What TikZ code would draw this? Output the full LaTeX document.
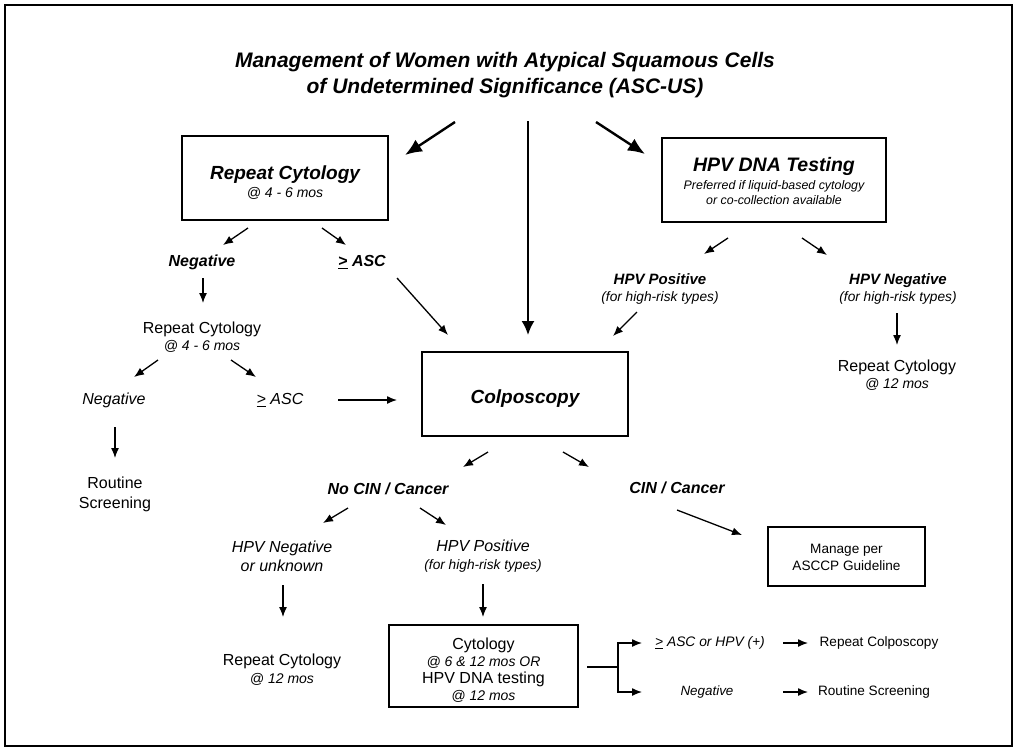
\documentclass[tikz,border=0pt]{standalone}
\usepackage{fontspec}
\setmainfont{Liberation Sans}
\usetikzlibrary{arrows.meta,calc}

\newcommand{\fsz}[2]{\fontsize{#1}{#2}\selectfont}
% "greater than or equal" written as an underlined >
\newcommand{\gequl}{\leavevmode\hbox{\vtop{\hbox{>}\kern1.3pt\hrule height 1.1pt}}}
% invisible strut that lowers a block of lines inside a box
\newcommand{\lift}[1]{\rule{0pt}{#1}}

\tikzset{
  box/.style={draw, line width=1.5pt, inner sep=0pt, align=center},
  lbl/.style={inner sep=0pt, align=center},
  arr/.style={-{Latex[length=10pt,width=8pt]}, line width=1.3pt},
  bigarr/.style={-{Latex[length=17pt,width=14pt]}, line width=2.4pt},
  midarr/.style={-{Latex[length=14pt,width=13pt]}, line width=2pt},
}

\begin{document}
\begin{tikzpicture}[x=1pt, y=-1pt]
\useasboundingbox (0,0) rectangle (1015,748);
\draw[line width=2.5pt] (5,5) rectangle (1012,746);

% heading
\node[lbl, font=\bfseries\itshape\fsz{21}{26}] (title) at (505,75)
  {Management of Women with Atypical Squamous Cells\\of Undetermined Significance (ASC-US)};

% boxes
\node[box, minimum width=206pt, minimum height=84pt, font=\fsz{14}{18}] (rc) at (285,178)
  {{\bfseries\itshape\fsz{19}{20}\lift{22pt}Repeat Cytology}\\{\itshape @ 4 - 6 mos}};
\node[box, minimum width=224pt, minimum height=84pt, font=\itshape\fsz{12.4}{14.5}] (hpv) at (774,180)
  {{\bfseries\fsz{19.5}{20}\lift{16pt}HPV DNA Testing}\\[4pt]Preferred if liquid-based cytology\\or co-collection available};
\node[box, minimum width=206pt, minimum height=84pt, font=\bfseries\itshape\fsz{19}{22}] (colpo) at (525,394)
  {\lift{22pt}Colposcopy};
\node[box, minimum width=157pt, minimum height=59pt, font=\fsz{13.6}{17}] (manage) at (846.5,556.5)
  {\lift{12pt}Manage per\\ASCCP Guideline};
\node[box, minimum width=189pt, minimum height=82pt, font=\itshape\fsz{14}{17.3}] (cyto) at (483.5,666)
  {{\upshape\fsz{16}{17}\lift{20pt}Cytology}\\@ 6 \& 12 mos OR\\{\upshape\fsz{16}{17}HPV DNA testing}\\@ 12 mos};

% labels
\node[lbl, font=\bfseries\itshape\fsz{16}{19}] (neg1) at (202,262) {Negative};
\node[lbl, font=\bfseries\itshape\fsz{16}{19}] (asc1) at (362,262) {\gequl\ ASC};
\node[lbl, font=\fsz{14}{17.5}] (rc2) at (202,337) {{\fsz{16}{17}Repeat Cytology}\\{\itshape @ 4 - 6 mos}};
\node[lbl, font=\itshape\fsz{16}{19}] (neg2) at (114,400) {Negative};
\node[lbl, font=\itshape\fsz{16}{19}] (asc2) at (280,400) {\gequl\ ASC};
\node[lbl, font=\fsz{16}{20}] (routine1) at (115,494) {Routine\\Screening};

\node[lbl, font=\itshape\fsz{13.7}{17.6}] (hpvpos) at (660,289) {{\bfseries\fsz{15}{17}HPV Positive}\\(for high-risk types)};
\node[lbl, font=\itshape\fsz{13.7}{17.6}] (hpvneg) at (898,289) {{\bfseries\fsz{15}{17}HPV Negative}\\(for high-risk types)};
\node[lbl, font=\fsz{14}{16.5}] (rc12a) at (897,375) {{\fsz{16}{17}Repeat Cytology}\\{\itshape @ 12 mos}};

\node[lbl, font=\bfseries\itshape\fsz{16}{19}] (nocin) at (388,489) {No CIN / Cancer};
\node[lbl, font=\bfseries\itshape\fsz{16}{19}] (cin) at (677,488) {CIN / Cancer};

\node[lbl, font=\itshape\fsz{16}{19}] (hpvneg2) at (282,556) {HPV Negative\\or unknown};
\node[lbl, font=\itshape\fsz{13.7}{18}] (hpvpos2) at (483,556) {{\fsz{16}{17}HPV Positive}\\(for high-risk types)};
\node[lbl, font=\fsz{14}{18}] (rc12b) at (282,670) {{\fsz{16}{17}Repeat Cytology}\\{\itshape @ 12 mos}};

\node[lbl, font=\itshape\fsz{13.8}{16}] (ascor) at (710,643) {\gequl\ ASC or HPV (+)};
\node[lbl, font=\itshape\fsz{13.4}{16}] (negb) at (707,692) {Negative};
\node[lbl, font=\fsz{13.6}{16}] (repcol) at (879,643) {Repeat Colposcopy};
\node[lbl, font=\fsz{13.6}{16}] (routine2) at (874,692) {Routine Screening};

% connectors from the heading
\draw[bigarr] ($(title.center)+(-50,47)$) -- ($(rc.center)+(120,-23)$);
\draw[midarr] ($(title.center)+(23,46)$) -- ($(colpo.center)+(3,-59)$);
\draw[bigarr] ($(title.center)+(91,47)$) -- ($(hpv.center)+(-129,-26)$);

% left branch
\draw[arr] ($(rc.center)+(-37,50)$) -- ($(neg1.center)+(21,-17)$);
\draw[arr] ($(rc.center)+(37,50)$) -- ($(asc1.center)+(-16,-17)$);
\draw[arr] ($(neg1.center)+(1,16)$) -- ($(rc2.center)+(1,-34)$);
\draw[arr] ($(asc1.center)+(35,16)$) -- ($(colpo.center)+(-77,-59)$);
\draw[arr] ($(rc2.center)+(-44,23)$) -- ($(neg2.center)+(20,-23)$);
\draw[arr] ($(rc2.center)+(29,23)$) -- ($(asc2.center)+(-24,-23)$);
\draw[arr] ($(neg2.center)+(1,27)$) -- ($(routine1.center)+(0,-36)$);
\draw[arr] ($(asc2.center)+(58,0)$) -- ($(colpo.center)+(-128,6)$);

% right branch
\draw[arr] ($(hpv.center)+(-46,58)$) -- ($(hpvpos.center)+(44,-35)$);
\draw[arr] ($(hpv.center)+(28,58)$) -- ($(hpvneg.center)+(-71,-34)$);
\draw[arr] ($(hpvpos.center)+(-23,23)$) -- ($(colpo.center)+(88,-58)$);
\draw[arr] ($(hpvneg.center)+(-1,24)$) -- ($(rc12a.center)+(0,-30)$);

% after colposcopy
\draw[arr] ($(colpo.center)+(-37,58)$) -- ($(nocin.center)+(75,-22)$);
\draw[arr] ($(colpo.center)+(38,58)$) -- ($(cin.center)+(-88,-21)$);
\draw[arr] ($(cin.center)+(0,22)$) -- ($(manage.center)+(-104.5,-21.5)$);
\draw[arr] ($(nocin.center)+(-40,19)$) -- ($(hpvneg2.center)+(41,-33)$);
\draw[arr] ($(nocin.center)+(32,19)$) -- ($(hpvpos2.center)+(-37,-31)$);
\draw[arr] ($(hpvneg2.center)+(1,29)$) -- ($(rc12b.center)+(1,-53)$);
\draw[arr] ($(hpvpos2.center)+(0,28)$) -- ($(cyto.center)+(-0.5,-49)$);

% follow-up fork
\coordinate (fork) at (618,667);
\draw[line width=1.3pt] ($(cyto.center)+(103.5,1)$) -- (fork);
\draw[arr] (fork) |- ($(ascor.center)+(-68,0)$);
\draw[arr] (fork) |- ($(negb.center)+(-65,0)$);
\draw[arr] ($(ascor.center)+(73,0)$) -- ($(repcol.center)+(-71,0)$);
\draw[arr] ($(negb.center)+(76,0)$) -- ($(routine2.center)+(-66,0)$);
\end{tikzpicture}
\end{document}
